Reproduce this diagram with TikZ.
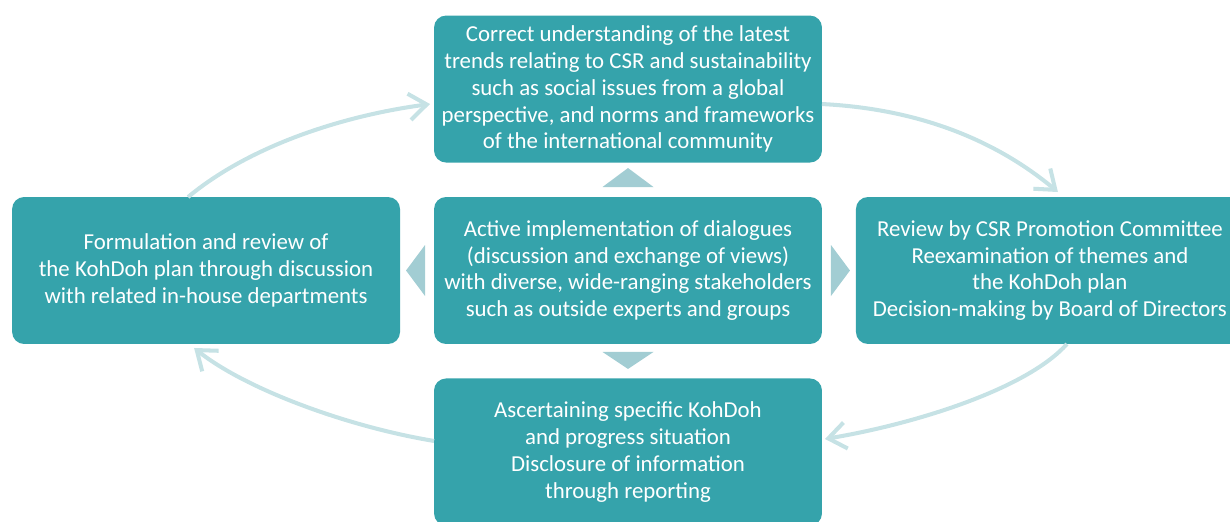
\documentclass[tikz,border=0pt]{standalone}
\usepackage{fontspec}
\setmainfont{Carlito}
\usetikzlibrary{arrows.meta,positioning,calc}

\definecolor{boxteal}{HTML}{35A3AB}
\definecolor{wedgeteal}{HTML}{A2CDD3}
\definecolor{arrowteal}{HTML}{C6E2E5}

\begin{document}
\begin{tikzpicture}[
    x=0.02cm, y=-0.02cm,
    node distance=0.69cm and 0.68cm,
    box/.style={rectangle, rounded corners=0.24cm, fill=boxteal, text=white, minimum width=7.76cm, minimum height=2.94cm, align=center, inner sep=0pt, outer sep=0pt, font=\fontsize{13}{15.3}\selectfont},
    wedge/.style={fill=wedgeteal},
    arrow/.style={-{Straight Barb[length=10pt,width=15pt]}, line width=2.3pt, draw=arrowteal}
]
    \useasboundingbox (0,0) rectangle (1230,521);
    \clip (0,0) rectangle (1230,521);

    \node[box] (dialog) at (628,270.5) {Active implementation of dialogues\\(discussion and exchange of views)\\with diverse, wide-ranging stakeholders\\such as outside experts and groups};
    \node[box, above=of dialog] (trends) {Correct understanding of the latest\\trends relating to CSR and sustainability\\such as social issues from a global\\perspective, and norms and frameworks\\of the international community};
    \node[box, left=of dialog] (plan) {Formulation and review of\\the KohDoh plan through discussion\\with related in-house departments};
    \node[box, right=of dialog] (review) {Review by CSR Promotion Committee\\Reexamination of themes and\\the KohDoh plan\\Decision-making by Board of Directors};
    \node[box, below=of dialog] (report) {Ascertaining specific KohDoh\\and progress situation\\Disclosure of information\\through reporting};

    % small wedges pointing away from the dialogue box
    \fill[wedge] ($(dialog.north)+(-25.5,-10)$) -- ($(dialog.north)+(25.5,-10)$) -- ($(dialog.north)+(0,-29)$) -- cycle;
    \fill[wedge] ($(dialog.south)+(-25.5,8)$) -- ($(dialog.south)+(25.5,8)$) -- ($(dialog.south)+(0,25)$) -- cycle;
    \fill[wedge] ($(dialog.west)+(-9,-25.5)$) -- ($(dialog.west)+(-9,25.5)$) -- ($(dialog.west)+(-28,0)$) -- cycle;
    \fill[wedge] ($(dialog.east)+(9,-25.5)$) -- ($(dialog.east)+(9,25.5)$) -- ($(dialog.east)+(28,0)$) -- cycle;

    % the outer cycle
    \draw[arrow] ($(plan.north)+(-18,0)$) .. controls +(60,-50) and +(-90,12) .. ($(trends.west)+(-4,15)$);
    \draw[arrow] ($(trends.east)+(0,15)$) .. controls +(100,5) and +(-60,-50) .. ($(review.north)+(8,-5)$);
    \draw[arrow] ($(review.south)+(17,0)$) .. controls +(-40,45) and +(90,-15) .. ($(report.east)+(3,-13)$);
    \draw[arrow] ($(report.west)+(0,-11)$) .. controls +(-90,-15) and +(50,40) .. ($(plan.south)+(-12,4)$);
\end{tikzpicture}
\end{document}
